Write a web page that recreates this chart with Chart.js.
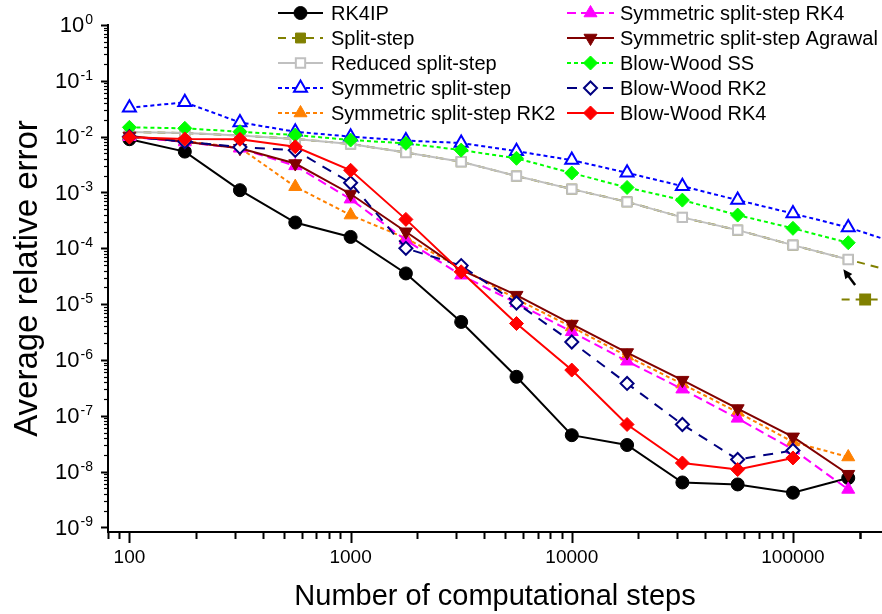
<!DOCTYPE html>
<html>
<head>
<meta charset="utf-8">
<script src="https://cdn.jsdelivr.net/npm/chart.js@4.4.0/dist/chart.umd.min.js"></script>
<style>
  html, body { margin: 0; padding: 0; background: #fff; }
  #wrap { width: 882px; height: 614px; }
</style>
</head>
<body>
<div id="wrap"><canvas id="chart" width="882" height="614"></canvas></div>
<script>
// number of computational steps (x)
const steps = [100, 178, 316, 562, 1000, 1778, 3162, 5623, 10000, 17783, 31623, 56234, 100000, 177828];
const stepsExt = steps.concat([316228]); // curves that run off the right edge

// average relative error
const rk4ip      = [0.0090, 0.0054, 0.0011, 2.9e-4, 1.6e-4, 3.55e-5, 4.8e-6, 5.0e-7, 4.5e-8, 3.0e-8, 6.4e-9, 5.9e-9, 4.2e-9, 7.7e-9];
const splitStep  = [0.0121, 0.0116, 0.0105, 0.0091, 0.0074, 0.0052, 0.00355, 0.00197, 0.00115, 6.8e-4, 3.58e-4, 2.12e-4, 1.14e-4, 6.3e-5, 3.45e-5];
const reduced    = [0.0121, 0.0116, 0.0105, 0.0091, 0.0074, 0.0052, 0.00355, 0.00197, 0.00115, 6.8e-4, 3.58e-4, 2.12e-4, 1.14e-4, 6.3e-5];
const symSS      = [0.0330, 0.0412, 0.0180, 0.01225, 0.0100, 0.0085, 0.0077, 0.0055, 0.0038, 0.00225, 0.0013, 7.3e-4, 4.2e-4, 2.37e-4, 1.13e-4];
const symRK2     = [0.0100, 0.0083, 0.0063, 0.00127, 3.94e-4, 1.52e-4, 4.4e-5, 1.23e-5, 3.9e-6, 1.17e-6, 3.7e-7, 1.16e-7, 3.4e-8, 1.83e-8];
const symRK4     = [0.0100, 0.0080, 0.0062, 0.0030, 7.6e-4, 1.4e-4, 3.3e-5, 1.05e-5, 3.2e-6, 9.5e-7, 3.0e-7, 9.0e-8, 2.5e-8, 4.8e-9];
const symAgrawal = [0.0103, 0.0081, 0.0062, 0.0033, 9.4e-4, 1.98e-4, 4.1e-5, 1.45e-5, 4.4e-6, 1.36e-6, 4.35e-7, 1.35e-7, 4.2e-8, 9.0e-9];
const bwSS       = [0.0147, 0.0141, 0.01225, 0.0107, 0.0087, 0.0076, 0.00575, 0.0041, 0.00223, 0.00123, 7.3e-4, 3.94e-4, 2.28e-4, 1.26e-4];
const bwRK2      = [0.0100, 0.0082, 0.0065, 0.0057, 0.00149, 1.0e-4, 4.9e-5, 1.05e-5, 2.1e-6, 3.8e-7, 7.0e-8, 1.65e-8, 2.4e-8];
const bwRK4      = [0.0098, 0.0091, 0.0090, 0.0066, 0.0025, 3.3e-4, 3.8e-5, 4.5e-6, 6.6e-7, 7.0e-8, 1.43e-8, 1.09e-8, 1.76e-8];

// the lone split-step symbol with the arrow at the lower right
const splitMarkX = [166000, 212000, 260000];
const splitMarkY = [1.21e-5, 1.21e-5, 1.21e-5];
const arrowTail = [191000, 2.2e-5];
const arrowTip  = [169000, 4.2e-5];

// axis ticks
const xDecades = [100, 1000, 10000, 100000];
const xTicks = [80, 90];
[100, 1000, 10000, 100000].forEach(d => { for (let k = 1; k <= 9; k++) xTicks.push(d * k); });
xTicks.push(200000);
const yDecades = [-9, -8, -7, -6, -5, -4, -3, -2, -1, 0];
const yTicks = [];
yDecades.forEach(e => { for (let k = 1; k <= 9; k++) { const v = k * Math.pow(10, e); if (v <= 1) yTicks.push(v); } });

function pts(xs, ys) {
    return ys.map((v, i) => ({ x: xs[i], y: v }));
}

const series = [
    { label: 'RK4IP', xs: steps, ys: rk4ip, color: '#000000', dash: [], style: 'circle', r: 6.5, fill: '#000000' },
    { label: 'Split-step', xs: stepsExt, ys: splitStep, color: '#808000', dash: [8, 6], style: 'rect', r: 7, fill: '#808000' },
    { label: 'Reduced split-step', xs: steps, ys: reduced, color: '#c0c0c0', dash: [], style: 'rect', r: 6.6, fill: '#ffffff' },
    { label: 'Symmetric split-step', xs: stepsExt, ys: symSS, color: '#0000ff', dash: [4, 3], style: 'triangle', r: 7.5, fill: '#ffffff' },
    { label: 'Symmetric split-step RK2', xs: steps, ys: symRK2, color: '#ff8000', dash: [4, 3], style: 'triangle', r: 7.5, fill: '#ff8000' },
    { label: 'Symmetric split-step RK4', xs: steps, ys: symRK4, color: '#ff00ff', dash: [9, 5], style: 'triangle', r: 7.5, fill: '#ff00ff' },
    { label: 'Symmetric split-step Agrawal', xs: steps, ys: symAgrawal, color: '#800000', dash: [], style: 'triangle', r: 7.5, fill: '#800000', rot: 180 },
    { label: 'Blow-Wood SS', xs: steps, ys: bwSS, color: '#00ff00', dash: [4, 3], style: 'rectRot', r: 7, fill: '#00ff00' },
    { label: 'Blow-Wood RK2', xs: steps, ys: bwRK2, color: '#000080', dash: [10, 8], style: 'rectRot', r: 6.5, fill: '#ffffff' },
    { label: 'Blow-Wood RK4', xs: steps, ys: bwRK4, color: '#ff0000', dash: [], style: 'rectRot', r: 7, fill: '#ff0000' }
];

const datasets = series.map((s, i) => ({
    label: s.label,
    data: pts(s.xs, s.ys),
    borderColor: s.color,
    borderWidth: 2,
    borderDash: s.dash,
    pointStyle: s.style,
    pointRadius: s.r,
    pointRotation: s.rot || 0,
    pointBackgroundColor: s.fill,
    pointBorderColor: s.color,
    pointBorderWidth: s.fill === '#ffffff' ? 2 : 1,
    tension: 0,
    order: series.length - i + 1
}));
datasets.push({
    label: 'split-step mark',
    hideInLegend: true,
    data: pts(splitMarkX, splitMarkY),
    borderColor: '#808000',
    borderWidth: 2,
    borderDash: [8, 6],
    pointStyle: 'rect',
    pointRadius: [0, 7, 0],
    pointBackgroundColor: '#808000',
    pointBorderColor: '#808000',
    order: 0
});

const FONT = "'Liberation Sans', Arial, sans-serif";
Chart.defaults.font.family = FONT;
Chart.defaults.color = '#000';

function drawMarker(ctx, opts, x, y) {
    if (Chart.helpers && Chart.helpers.drawPoint) {
        Chart.helpers.drawPoint(ctx, opts, x, y);
    }
}

const decor = {
    id: 'decor',
    afterDraw(chart) {
        const { ctx, chartArea: a, scales: { x, y } } = chart;
        ctx.save();
        ctx.strokeStyle = '#000';
        ctx.setLineDash([]);

        // x tick marks, pointing down
        ctx.lineWidth = 2;
        xTicks.forEach(v => {
            const px = Math.round(x.getPixelForValue(v)) + 0.5;
            const len = xDecades.includes(v) ? 11 : 7;
            ctx.beginPath();
            ctx.moveTo(px, a.bottom);
            ctx.lineTo(px, a.bottom + len);
            ctx.stroke();
        });

        // y tick marks, pointing left
        yTicks.forEach(v => {
            const py = Math.round(y.getPixelForValue(v)) + 0.5;
            const lg = Math.log10(v);
            const major = Math.abs(lg - Math.round(lg)) < 1e-9;
            ctx.lineWidth = major ? 2 : 1.2;
            ctx.beginPath();
            ctx.moveTo(a.left, py);
            ctx.lineTo(a.left - (major ? 7 : 4), py);
            ctx.stroke();
        });

        // y labels 10^n
        ctx.fillStyle = '#000';
        ctx.textBaseline = 'middle';
        ctx.textAlign = 'left';
        yDecades.forEach(e => {
            const py = y.getPixelForValue(Math.pow(10, e));
            const sup = e < 0 ? '-' + (-e) : String(e);
            ctx.font = '22px ' + FONT;
            const wBase = ctx.measureText('10').width;
            ctx.font = '14px ' + FONT;
            const wSup = ctx.measureText(sup).width;
            const x0 = 93 - wBase - wSup - 1;
            ctx.font = '22px ' + FONT;
            ctx.fillText('10', x0, py + 1);
            ctx.font = '14px ' + FONT;
            ctx.fillText(sup, x0 + wBase + 1, py - 5);
        });

        // arrow pointing at the hidden split-step curve
        const tx = x.getPixelForValue(arrowTail[0]), ty = y.getPixelForValue(arrowTail[1]);
        const hx = x.getPixelForValue(arrowTip[0]), hy = y.getPixelForValue(arrowTip[1]);
        const ang = Math.atan2(hy - ty, hx - tx);
        ctx.lineWidth = 2.5;
        ctx.beginPath();
        ctx.moveTo(tx, ty);
        ctx.lineTo(hx - Math.cos(ang) * 5, hy - Math.sin(ang) * 5);
        ctx.stroke();
        ctx.beginPath();
        ctx.moveTo(hx, hy);
        ctx.lineTo(hx - Math.cos(ang - 0.45) * 10, hy - Math.sin(ang - 0.45) * 10);
        ctx.lineTo(hx - Math.cos(ang + 0.45) * 10, hy - Math.sin(ang + 0.45) * 10);
        ctx.closePath();
        ctx.fill();

        // legend, two columns
        const cols = [{ l0: 278, l1: 323, tx: 331 }, { l0: 567, l1: 614, tx: 620 }];
        ctx.font = '20px ' + FONT;
        ctx.textBaseline = 'middle';
        chart.data.datasets.filter(d => !d.hideInLegend).forEach((d, i) => {
            const c = cols[Math.floor(i / 5)];
            const ly = 13 + 25 * (i % 5);
            const mx = (c.l0 + c.l1) / 2;
            ctx.strokeStyle = d.borderColor;
            ctx.lineWidth = d.borderWidth;
            ctx.setLineDash(d.borderDash);
            ctx.beginPath();
            ctx.moveTo(c.l0, ly);
            ctx.lineTo(c.l1, ly);
            ctx.stroke();
            ctx.setLineDash([]);
            ctx.fillStyle = d.pointBackgroundColor;
            ctx.strokeStyle = d.pointBorderColor;
            ctx.lineWidth = d.pointBorderWidth;
            drawMarker(ctx, { pointStyle: d.pointStyle, radius: d.pointRadius, rotation: d.pointRotation, borderWidth: d.pointBorderWidth }, mx, ly);
            ctx.fillStyle = '#000';
            ctx.fillText(d.label, c.tx, ly + 1);
        });
        ctx.restore();
    }
};

new Chart(document.getElementById('chart').getContext('2d'), {
    type: 'line',
    data: { datasets: datasets },
    options: {
        responsive: false,
        animation: false,
        layout: { autoPadding: false, padding: { left: 0, right: 0, top: 25, bottom: 0 } },
        plugins: { legend: { display: false }, tooltip: { enabled: false } },
        scales: {
            x: {
                type: 'logarithmic',
                min: 80,
                max: 252700,
                afterBuildTicks: s => { s.ticks = xTicks.map(v => ({ value: v })); },
                afterFit: s => { s.height = 82; },
                grid: { display: false, drawTicks: false },
                border: { display: true, color: '#000', width: 2 },
                ticks: {
                    autoSkip: false, maxRotation: 0, padding: 14, color: '#000',
                    font: { size: 19 },
                    callback: v => xDecades.includes(v) ? String(v) : ''
                },
                title: { display: true, text: 'Number of computational steps', color: '#000', font: { size: 29 }, padding: { top: 0, bottom: 0 } }
            },
            y: {
                type: 'logarithmic',
                min: 8.3e-10,
                max: 1,
                afterFit: s => { s.width = 108; },
                grid: { display: false, drawTicks: false },
                border: { display: true, color: '#000', width: 2 },
                ticks: { display: false },
                title: { display: true, text: 'Average relative error', color: '#000', font: { size: 33 }, padding: { top: 8, bottom: 0 } }
            }
        }
    },
    plugins: [decor]
});
</script>
</body>
</html>
